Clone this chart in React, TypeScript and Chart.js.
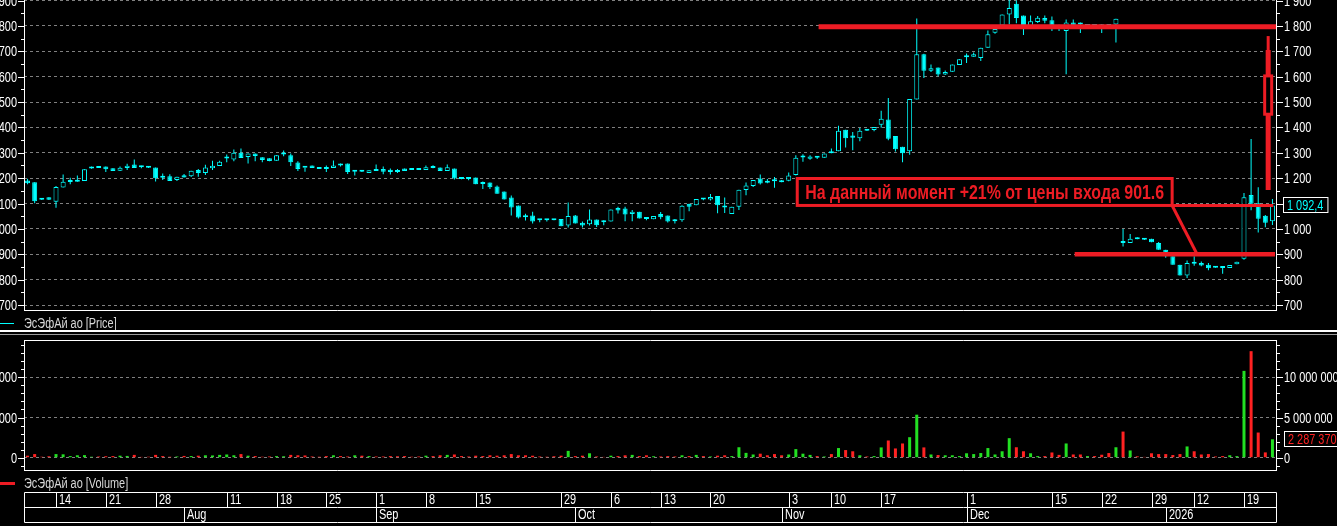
import React, { useEffect, useRef } from "react";
import { Chart, registerables } from "chart.js";
Chart.register(...registerables);

const CYAN = "#00ffff";
const RED = "#ed1c24";
const VOL_UP = "#22e022";
const VOL_DN = "#ff2222";
const FONT = '"Liberation Sans", Arial, sans-serif';
const SX = 0.78; // horizontal squeeze to mimic the terminal's narrow font

const instrument = "ЭсЭфАй ао";

const opens = [
  1191,1184,1121,1125,1107,1163,1185,1186,1189,1238,
  1246,1246,1239,1229,1240,1254,1249,1246,1242,1208,
  1207,1193,1211,1207,1232,1220,1239,1248,1277,1274,
  1300,1283,1297,1282,1278,1269,1293,1290,1262,1242,
  1250,1242,1243,1240,1258,1258,1225,1226,1220,1236,
  1236,1233,1232,1238,1233,1238,1232,1247,1242,1228,
  1238,1203,1198,1203,1178,1183,1167,1147,1124,1092,
  1048,1053,1039,1039,1035,1039,1013,1053,1024,1018,
  1037,1034,1029,1082,1080,1059,1068,1040,1038,1059,
  1053,1034,1034,1099,1093,1117,1116,1130,1092,1059,
  1087,1153,1169,1199,1190,1189,1190,1190,1212,1281,
  1276,1285,1280,1305,1306,1391,1368,1357,1393,1390,
  1410,1431,1366,1324,1306,1510,1688,1623,1636,1609,
  1619,1646,1677,1679,1674,1714,1773,1802,1845,1887,
  1841,1798,1815,1831,1822,1800,1780,1814,1814,1800,
  1801,1800,1802,1806,945,944,965,960,961,944,
  918,892,859,816,864,866,859,848,847,846,
  861,882,1134,1101,1052,1030,
];
const highs = [
  1198,1184,1121,1125,1169,1214,1202,1210,1235,1246,
  1246,1246,1239,1246,1257,1274,1249,1246,1242,1218,
  1215,1206,1216,1229,1236,1253,1269,1269,1293,1313,
  1317,1297,1297,1282,1278,1290,1309,1297,1267,1242,
  1250,1242,1250,1270,1258,1258,1232,1232,1231,1254,
  1246,1238,1236,1238,1233,1238,1250,1251,1242,1254,
  1238,1203,1201,1203,1187,1183,1171,1147,1132,1092,
  1060,1068,1039,1039,1035,1039,1104,1055,1029,1076,
  1037,1034,1076,1087,1087,1074,1068,1040,1051,1067,
  1053,1039,1093,1099,1118,1118,1138,1130,1124,1087,
  1154,1183,1193,1214,1197,1205,1193,1222,1290,1294,
  1290,1285,1297,1317,1407,1391,1382,1398,1393,1402,
  1466,1516,1366,1324,1512,1829,1690,1648,1636,1624,
  1648,1669,1691,1695,1714,1782,1795,1845,1905,1900,
  1841,1841,1839,1841,1837,1805,1825,1825,1814,1803,
  1802,1808,1808,1828,1000,980,967,960,961,948,
  918,892,859,875,892,871,866,848,847,858,
  870,1141,1354,1164,1055,1118,
];
const lows = [
  1176,1101,1114,1114,1083,1163,1176,1186,1189,1237,
  1240,1224,1228,1228,1232,1240,1239,1240,1187,1193,
  1189,1189,1203,1205,1206,1212,1232,1248,1263,1267,
  1279,1258,1267,1263,1267,1269,1286,1248,1228,1225,
  1240,1236,1224,1240,1246,1216,1210,1224,1220,1228,
  1215,1214,1220,1228,1232,1232,1232,1239,1228,1228,
  1195,1196,1192,1176,1157,1157,1139,1116,1053,1041,
  1033,1021,1026,1029,1034,1010,1005,1021,1005,1013,
  1007,1014,1029,1061,1030,1030,1041,1034,1038,1038,
  1025,1021,1028,1070,1093,1113,1112,1062,1063,1059,
  1074,1133,1165,1175,1180,1162,1184,1188,1210,1265,
  1273,1275,1280,1298,1306,1321,1310,1345,1386,1385,
  1399,1349,1305,1263,1292,1510,1595,1618,1602,1607,
  1619,1646,1654,1679,1662,1714,1769,1802,1806,1811,
  1764,1795,1812,1811,1780,1780,1610,1795,1772,1797,
  1798,1772,1795,1735,931,944,959,956,947,918,
  886,859,816,806,855,853,837,847,823,846,
  861,878,1073,986,1006,1015,
];
const closes = [
  1180,1109,1115,1115,1165,1186,1187,1187,1235,1240,
  1240,1235,1228,1241,1249,1240,1243,1241,1200,1202,
  1189,1206,1203,1229,1220,1242,1249,1265,1279,1300,
  1279,1297,1287,1272,1268,1290,1294,1263,1236,1241,
  1240,1236,1236,1250,1250,1224,1226,1225,1231,1228,
  1225,1224,1224,1228,1232,1232,1243,1240,1228,1243,
  1199,1197,1197,1176,1177,1164,1139,1116,1084,1045,
  1046,1029,1034,1034,1034,1010,1051,1021,1013,1037,
  1014,1026,1076,1072,1057,1068,1041,1039,1051,1046,
  1029,1030,1091,1087,1118,1116,1126,1093,1084,1087,
  1154,1171,1193,1179,1182,1188,1184,1210,1280,1282,
  1285,1280,1297,1298,1387,1357,1359,1387,1387,1402,
  1434,1355,1314,1298,1512,1688,1623,1633,1609,1618,
  1648,1669,1678,1688,1714,1767,1788,1845,1871,1831,
  1795,1818,1832,1820,1802,1795,1814,1802,1806,1801,
  1800,1799,1800,1828,944,961,959,957,947,918,
  892,859,816,866,863,856,845,847,846,858,
  870,1125,1099,1040,1024,1092.4,
];
// volume in millions of shares
const volumeMln = [
  0.25,0.45,0.12,0.18,0.45,0.42,0.2,0.3,0.32,0.12,
  0.15,0.18,0.2,0.25,0.22,0.35,0.1,0.12,0.35,0.2,
  0.12,0.15,0.22,0.2,0.25,0.3,0.28,0.35,0.4,0.3,
  0.45,0.25,0.2,0.12,0.15,0.2,0.18,0.35,0.3,0.28,
  0.15,0.12,0.2,0.3,0.2,0.15,0.3,0.25,0.2,0.15,
  0.15,0.2,0.18,0.2,0.12,0.15,0.25,0.2,0.3,0.35,
  0.4,0.2,0.15,0.25,0.2,0.3,0.25,0.3,0.45,0.3,
  0.3,0.25,0.15,0.12,0.18,0.25,0.85,0.2,0.25,0.55,
  0.15,0.1,0.25,0.2,0.3,0.35,0.2,0.3,0.18,0.15,
  0.2,0.15,0.3,0.2,0.35,0.2,0.15,0.25,0.3,0.2,
  1.3,0.6,0.4,0.5,0.3,0.45,0.3,0.4,1.07,0.5,
  0.35,0.2,0.15,0.45,1.2,0.95,0.8,0.3,0.15,0.2,
  1.28,2.14,1.15,1.77,2.55,5.35,1.28,0.4,0.33,0.3,
  0.3,0.2,0.55,0.45,0.58,1.2,0.4,0.8,2.43,1.3,
  0.8,0.55,0.2,0.2,0.65,0.35,1.77,0.4,0.4,0.2,
  0.2,0.37,0.58,1.3,3.25,0.9,0.17,0.1,0.55,0.45,
  0.45,0.33,0.45,1.4,0.8,0.4,0.45,0.15,0.2,0.3,
  0.2,10.8,13.25,3.13,0.66,2.28737,
];

// date strip: candle index of each labelled day / month start
const dayTickIdx = [4, 11, 18, 28, 35, 42, 49, 56, 63, 75, 82, 89, 96, 107, 113, 120, 132, 144, 151, 158, 164, 171];
const dayTickLabels = ["14", "21", "28", "11", "18", "25", "1", "8", "15", "29", "6", "13", "20", "3", "10", "17", "1", "15", "22", "29", "12", "19"];
const monthIdx = [22, 49, 77, 106, 132, 160];
const monthLabels = ["Aug", "Sep", "Oct", "Nov", "Dec", "2026"];

// axes
const PRICE_MIN = 680.3;
const PRICE_MAX = 1902.2;
const priceTickValues = [700, 800, 900, 1000, 1100, 1200, 1300, 1400, 1500, 1600, 1700, 1800, 1900];
const VOL_MIN = -1.53e6;
const VOL_MAX = 14.64e6;
const volTickValues = [0, 5e6, 10e6];

// hand-drawn annotation (data units)
const resistanceLevel = 1797;
const resistanceFromIdx = 111.2;
const supportLevel = 900;
const supportFromIdx = 147.2;
const noteText = "На данный момент +21% от цены входа 901.6";
const noteFromIdx = 108.2;
const noteToIdx = 160.9;
const noteTop = 1198.6;
const noteBottom = 1092.4;
const pointerEndIdx = 164.3;
const pointerEndPrice = 906;
const lastLineToIdx = 175.1;
const forecastIdx = 174.4;
const forecastHigh = 1760;
const forecastNeck = 1705;
const forecastBodyTop = 1603;
const forecastBodyBottom = 1452;
const forecastLow = 1153;

const labels = opens.map((_, i) => String(i));
const isUp = opens.map((o, i) => closes[i] >= o);
const volumes = volumeMln.map((v) => v * 1e6);

const fmtSpace = (v: number) => String(Math.round(v)).replace(/\B(?=(\d{3})+(?!\d))/g, " ");

const LEFT_W = 24;
const RIGHT_W = 61;

type TxtOpts = { size?: number; bold?: boolean; color: string; align?: CanvasTextAlign; sx?: number };
function txt(ctx: CanvasRenderingContext2D, s: string, x: number, y: number, o: TxtOpts) {
  ctx.save();
  ctx.font = `${o.bold ? "bold " : ""}${o.size ?? 14}px ${FONT}`;
  ctx.fillStyle = o.color;
  ctx.textBaseline = "middle";
  ctx.textAlign = o.align ?? "left";
  ctx.translate(x, y);
  ctx.scale(o.sx ?? SX, 1);
  ctx.fillText(s, 0, 0);
  ctx.restore();
}
function txtWidth(ctx: CanvasRenderingContext2D, s: string, o: { size?: number; bold?: boolean; sx?: number }) {
  ctx.save();
  ctx.font = `${o.bold ? "bold " : ""}${o.size ?? 14}px ${FONT}`;
  const w = ctx.measureText(s).width * (o.sx ?? SX);
  ctx.restore();
  return w;
}

function drawYAxisDecor(ctx: CanvasRenderingContext2D, chart: any, y: any, minorValues: number[], isMajor: (v: number) => boolean, labelColor: string) {
  const a = chart.chartArea;
  ctx.strokeStyle = "#ffffff";
  ctx.lineWidth = 1;
  ctx.beginPath();
  minorValues.forEach((v) => {
    const p = Math.round(y.getPixelForValue(v)) + 0.5;
    const len = isMajor(v) ? 6 : 3;
    ctx.moveTo(a.left - len, p);
    ctx.lineTo(a.left, p);
    ctx.moveTo(a.right, p);
    ctx.lineTo(a.right + len + 1, p);
  });
  ctx.stroke();
  y.ticks.forEach((t: any) => {
    const p = Math.round(y.getPixelForValue(t.value)) + 1;
    const s = fmtSpace(t.value);
    txt(ctx, s, a.left - 7, p, { color: labelColor, align: "right" });
    txt(ctx, s, a.right + 8, p, { color: labelColor });
  });
}

const pricePlugin = {
  id: "priceDecor",
  afterDraw(chart: any) {
    const { ctx, chartArea: a, scales } = chart;
    const xs = scales.x;
    const ys = scales.y;
    const px = (i: number) => xs.getPixelForValue(i);
    const py = (v: number) => ys.getPixelForValue(v);
    ctx.save();

    // bottom frame
    ctx.strokeStyle = "#ffffff";
    ctx.lineWidth = 1;
    ctx.beginPath();
    ctx.moveTo(a.left, Math.round(a.bottom) + 0.5);
    ctx.lineTo(a.right + 1, Math.round(a.bottom) + 0.5);
    ctx.stroke();

    const minor: number[] = [];
    for (let v = 700; v <= 1900; v += 50) minor.push(v);
    drawYAxisDecor(ctx, chart, ys, minor, (v) => v % 100 === 0, "#ffffff");

    // red annotations
    ctx.strokeStyle = RED;
    ctx.lineCap = "butt";
    ctx.lineWidth = 5;
    ctx.beginPath();
    ctx.moveTo(px(resistanceFromIdx), py(resistanceLevel));
    ctx.lineTo(a.right, py(resistanceLevel));
    ctx.stroke();
    ctx.lineWidth = 4.5;
    ctx.beginPath();
    ctx.moveTo(px(supportFromIdx), py(supportLevel));
    ctx.lineTo(a.right - 1, py(supportLevel));
    ctx.stroke();
    ctx.lineWidth = 3;
    ctx.beginPath();
    ctx.moveTo(px(noteToIdx), py(noteBottom));
    ctx.lineTo(px(lastLineToIdx), py(noteBottom));
    ctx.stroke();
    ctx.beginPath();
    ctx.moveTo(px(noteToIdx), py(noteBottom));
    ctx.lineTo(px(pointerEndIdx), py(pointerEndPrice));
    ctx.stroke();
    // note box
    const bx1 = px(noteFromIdx), bx2 = px(noteToIdx);
    const by1 = py(noteTop), by2 = py(noteBottom);
    ctx.fillStyle = "#000000";
    ctx.fillRect(bx1, by1, bx2 - bx1, by2 - by1);
    ctx.lineWidth = 3;
    ctx.strokeRect(bx1, by1, bx2 - bx1, by2 - by1);
    const rawW = txtWidth(ctx, noteText, { size: 21, bold: true, sx: 1 });
    const noteSx = (bx2 - bx1 - 16) / rawW;
    txt(ctx, noteText, bx1 + 8, (by1 + by2) / 2 + 1, { size: 21, bold: true, color: RED, sx: noteSx });

    // forecast mark
    const fx = px(forecastIdx);
    ctx.strokeStyle = RED;
    ctx.lineWidth = 3;
    ctx.beginPath();
    ctx.moveTo(fx, py(forecastHigh));
    ctx.lineTo(fx, py(forecastNeck));
    ctx.stroke();
    ctx.lineWidth = 5;
    ctx.beginPath();
    ctx.moveTo(fx, py(forecastNeck));
    ctx.lineTo(fx, py(forecastLow));
    ctx.stroke();
    const fy1 = py(forecastBodyTop), fy2 = py(forecastBodyBottom);
    ctx.fillStyle = "#000000";
    ctx.fillRect(fx - 4, fy1, 8, fy2 - fy1);
    ctx.lineWidth = 3;
    ctx.strokeRect(fx - 3.5, fy1, 7, fy2 - fy1);

    // last price box
    const last = closes[closes.length - 1];
    const [ip, fp] = last.toFixed(1).split(".");
    const lastTxt = `${fmtSpace(+ip)},${fp}`;
    const ly = Math.round(py(last));
    const tw = txtWidth(ctx, lastTxt, {});
    ctx.fillStyle = "#000000";
    ctx.fillRect(a.right + 7, ly - 8, tw + 9, 16);
    ctx.strokeStyle = "#ffffff";
    ctx.lineWidth = 1;
    ctx.strokeRect(a.right + 7.5, ly - 7.5, tw + 8, 15);
    txt(ctx, lastTxt, a.right + 11, ly + 1, { color: CYAN });

    // legend
    const legY = a.bottom + 13;
    ctx.strokeStyle = CYAN;
    ctx.lineWidth = 1;
    ctx.beginPath();
    ctx.moveTo(0, legY + 0.5);
    ctx.lineTo(14, legY + 0.5);
    ctx.stroke();
    txt(ctx, `${instrument} [Price]`, a.left, legY + 1, { color: "#d8d8d8" });

    // separators
    ctx.fillStyle = "#ffffff";
    ctx.fillRect(0, a.bottom + 20, chart.width, 2);
    ctx.fillStyle = "#9a9a9a";
    ctx.fillRect(0, a.bottom + 24, chart.width, 1);
    ctx.restore();
  },
};

const volumePlugin = {
  id: "volumeDecor",
  afterDraw(chart: any) {
    const { ctx, chartArea: a, scales } = chart;
    const xs = scales.x;
    const ys = scales.y;
    const px = (i: number) => xs.getPixelForValue(i);
    ctx.save();
    ctx.strokeStyle = "#ffffff";
    ctx.lineWidth = 1;
    ctx.beginPath();
    ctx.moveTo(a.left, Math.round(a.top) + 0.5);
    ctx.lineTo(a.right + 1, Math.round(a.top) + 0.5);
    ctx.moveTo(a.left, Math.round(a.bottom) + 0.5);
    ctx.lineTo(a.right + 1, Math.round(a.bottom) + 0.5);
    ctx.stroke();

    const minor: number[] = [];
    for (let v = -1e6; v <= 14e6; v += 1e6) minor.push(v);
    drawYAxisDecor(ctx, chart, ys, minor, (v) => v % 5e6 === 0, "#ffffff");

    // last volume box
    const lastV = volumes[volumes.length - 1];
    const lvTxt = fmtSpace(lastV);
    const ly = Math.round(ys.getPixelForValue(lastV));
    const tw = txtWidth(ctx, lvTxt, {});
    ctx.fillStyle = "#000000";
    ctx.fillRect(a.right + 8, ly - 8, tw + 9, 16);
    ctx.strokeStyle = "#ffffff";
    ctx.lineWidth = 1;
    ctx.strokeRect(a.right + 8.5, ly - 7.5, tw + 8, 15);
    txt(ctx, lvTxt, a.right + 12, ly + 1, { color: VOL_DN });

    // legend
    const legY = a.bottom + 13;
    ctx.fillStyle = RED;
    ctx.fillRect(0, legY - 1, 15, 3);
    txt(ctx, `${instrument} [Volume]`, a.left, legY + 1, { color: "#d8d8d8" });

    // date strip
    const top = a.bottom + 22.5;
    const mid = top + 15;
    const bot = mid + 15;
    const L = a.left + 0.5;
    const R = Math.round(a.right) + 0.5;
    ctx.strokeStyle = "#ffffff";
    ctx.lineWidth = 1;
    ctx.beginPath();
    ctx.moveTo(L, top); ctx.lineTo(R, top);
    ctx.moveTo(L, mid); ctx.lineTo(R, mid);
    ctx.moveTo(L, bot); ctx.lineTo(R, bot);
    ctx.moveTo(L, top); ctx.lineTo(L, bot);
    ctx.moveTo(R, top); ctx.lineTo(R, bot);
    dayTickIdx.forEach((i) => {
      const x = Math.round(px(i)) + 0.5;
      ctx.moveTo(x, top); ctx.lineTo(x, mid);
    });
    monthIdx.forEach((i) => {
      const x = Math.round(px(i)) + 0.5;
      ctx.moveTo(x, mid); ctx.lineTo(x, bot);
    });
    ctx.stroke();
    dayTickIdx.forEach((i, k) => {
      txt(ctx, dayTickLabels[k], Math.round(px(i)) + 3, top + 8, { color: "#ffffff" });
    });
    monthIdx.forEach((i, k) => {
      txt(ctx, monthLabels[k], Math.round(px(i)) + 3, mid + 8, { color: "#ffffff" });
    });
    ctx.restore();
  },
};

function yAxis(position: "left" | "right", min: number, max: number, values: number[], grid: boolean) {
  return {
    type: "linear",
    position,
    min,
    max,
    afterBuildTicks: (s: any) => {
      s.ticks = values.map((v) => ({ value: v }));
    },
    ticks: { display: false },
    grid: { display: grid, drawTicks: false, color: "#808080", lineWidth: 1 },
    border: { display: true, color: "#ffffff", width: 1, dash: [3, 3] },
    afterFit: (s: any) => {
      s.width = position === "left" ? LEFT_W : RIGHT_W;
      s.paddingTop = 0;
      s.paddingBottom = 0;
    },
  };
}

export default function App() {
  const pRef = useRef<HTMLCanvasElement>(null);
  const vRef = useRef<HTMLCanvasElement>(null);

  useEffect(() => {
    const priceChart = new Chart(pRef.current as HTMLCanvasElement, {
      type: "bar",
      data: {
        labels,
        datasets: [
          {
            label: "body",
            data: opens.map((o, i) => [o, closes[i]]) as any,
            backgroundColor: isUp.map((u) => (u ? "#000000" : CYAN)),
            borderColor: CYAN,
            borderWidth: 1,
            borderSkipped: false,
            barThickness: 5,
            minBarLength: 2,
            grouped: false,
            inflateAmount: 0,
            order: 1,
            yAxisID: "y",
          } as any,
          {
            label: "wick",
            data: lows.map((l, i) => [l, highs[i]]) as any,
            backgroundColor: CYAN,
            borderWidth: 0,
            barThickness: 1,
            minBarLength: 1,
            grouped: false,
            inflateAmount: 0,
            order: 2,
            yAxisID: "y",
          } as any,
        ],
      },
      options: {
        animation: false,
        responsive: false,
        maintainAspectRatio: false,
        layout: { padding: { top: 0, bottom: 27, left: 0, right: 0 } },
        plugins: { legend: { display: false }, tooltip: { enabled: false } },
        scales: {
          x: { type: "category", display: false, offset: true, grid: { display: false } },
          y: yAxis("right", PRICE_MIN, PRICE_MAX, priceTickValues, true),
          yl: yAxis("left", PRICE_MIN, PRICE_MAX, priceTickValues, false),
        } as any,
      },
      plugins: [pricePlugin],
    });

    const volumeChart = new Chart(vRef.current as HTMLCanvasElement, {
      type: "bar",
      data: {
        labels,
        datasets: [
          {
            label: "volume",
            data: volumes,
            backgroundColor: isUp.map((u) => (u ? VOL_UP : VOL_DN)),
            borderWidth: 0,
            barThickness: 3,
            inflateAmount: 0,
            yAxisID: "y",
          } as any,
        ],
      },
      options: {
        animation: false,
        responsive: false,
        maintainAspectRatio: false,
        layout: { padding: { top: 3, bottom: 56, left: 0, right: 0 } },
        plugins: { legend: { display: false }, tooltip: { enabled: false } },
        scales: {
          x: { type: "category", display: false, offset: true, grid: { display: false } },
          y: yAxis("right", VOL_MIN, VOL_MAX, volTickValues, true),
          yl: yAxis("left", VOL_MIN, VOL_MAX, volTickValues, false),
        } as any,
      },
      plugins: [volumePlugin],
    });

    return () => {
      priceChart.destroy();
      volumeChart.destroy();
    };
  }, []);

  return (
    <div style={{ position: "fixed", left: 0, top: 0, width: 1337, height: 526, background: "#000", overflow: "hidden" }}>
      <canvas ref={pRef} width={1337} height={337} style={{ position: "absolute", left: 0, top: 0, display: "block" }} />
      <canvas ref={vRef} width={1337} height={189} style={{ position: "absolute", left: 0, top: 337, display: "block" }} />
    </div>
  );
}
